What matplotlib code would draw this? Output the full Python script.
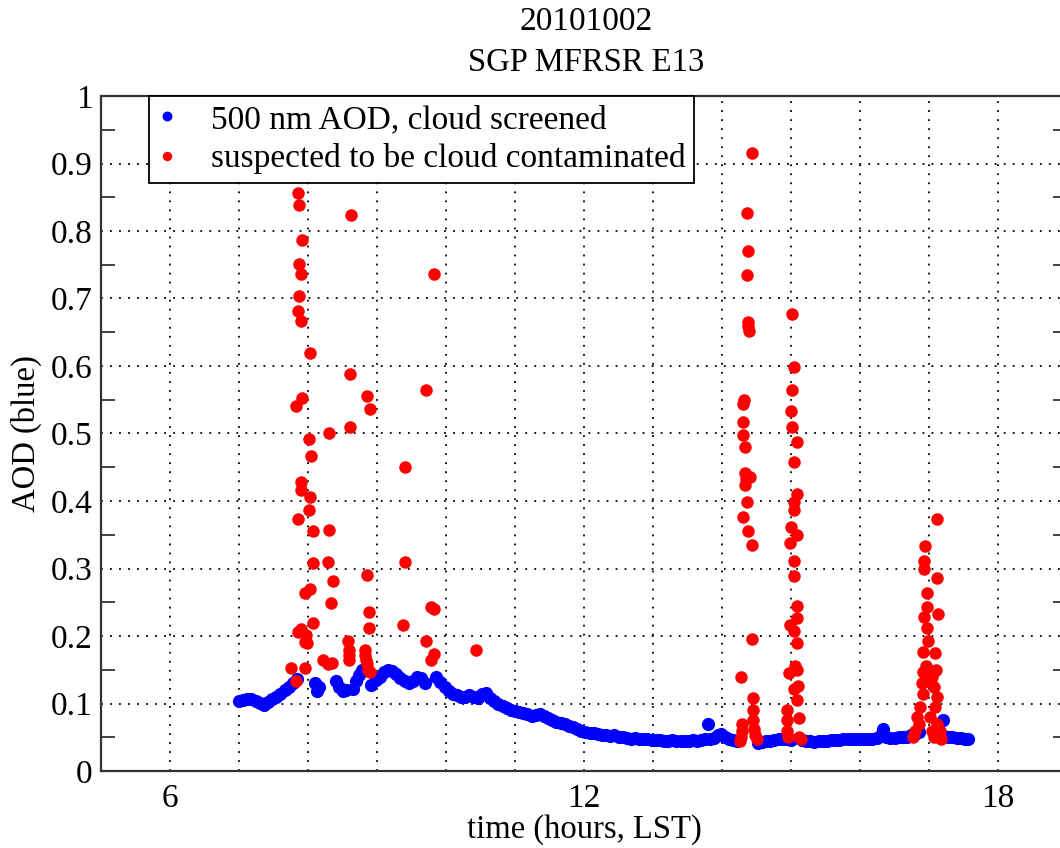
import matplotlib
matplotlib.use("Agg")
import matplotlib.pyplot as plt
from matplotlib.ticker import MultipleLocator, FixedLocator, FormatStrFormatter

# Cloud screened 500 nm AOD (blue)
blue_t = [7.00, 7.06, 7.12, 7.18, 7.24, 7.30, 7.36, 7.42, 7.48, 7.54, 7.60, 7.66, 7.72, 7.78, 7.84,
          8.10, 8.13, 8.16, 8.40, 8.45, 8.50, 8.55, 8.65, 8.70, 8.74, 8.78,
          8.92, 8.98, 9.04, 9.10, 9.16, 9.22, 9.28, 9.34, 9.40, 9.46, 9.52, 9.58, 9.64, 9.70,
          9.86, 9.92, 9.98, 10.04, 10.10, 10.16, 10.22, 10.28, 10.34, 10.40, 10.46, 10.52, 10.58,
          10.64, 10.70, 10.76, 10.82, 10.88, 10.94, 11.00, 11.06, 11.12, 11.18, 11.24, 11.30,
          11.36, 11.42, 11.48, 11.54, 11.60, 11.66, 11.72, 11.78, 11.84, 11.90, 11.96, 12.02,
          12.08, 12.14, 12.20, 12.26, 12.32, 12.38, 12.44, 12.50, 12.56, 12.62, 12.68, 12.74,
          12.80, 12.86, 12.92, 12.98, 13.04, 13.10, 13.16, 13.22, 13.28, 13.34, 13.40, 13.46,
          13.52, 13.58, 13.64, 13.70, 13.76, 13.79, 13.82, 13.88, 13.94, 13.98, 14.04, 14.10,
          14.16, 14.22, 14.52, 14.58, 14.64, 14.70, 14.76, 14.82, 14.88, 14.94, 15.00,
          15.16, 15.22, 15.28, 15.34, 15.40, 15.46, 15.52, 15.58, 15.64, 15.70, 15.76, 15.82,
          15.88, 15.94, 16.00, 16.06, 16.12, 16.18, 16.24, 16.30, 16.33, 16.38, 16.44, 16.50,
          16.56, 16.62, 16.68, 16.74, 16.80, 16.86, 17.20, 17.22, 17.28, 17.34, 17.40, 17.46,
          17.52, 17.57]
blue_aod = [0.103, 0.105, 0.107, 0.106, 0.104, 0.101, 0.098, 0.102, 0.106, 0.110, 0.114, 0.120, 0.125, 0.131, 0.136,
            0.130, 0.118, 0.125, 0.133, 0.125, 0.118, 0.120, 0.122, 0.133, 0.142, 0.150,
            0.128, 0.135, 0.140, 0.146, 0.150, 0.148, 0.143, 0.138, 0.134, 0.130, 0.133, 0.140, 0.138, 0.130,
            0.140, 0.132, 0.124, 0.118, 0.114, 0.112, 0.110, 0.110, 0.113, 0.110, 0.108, 0.114, 0.116,
            0.108, 0.104, 0.100, 0.097, 0.094, 0.091, 0.089, 0.088, 0.086, 0.084, 0.082, 0.083,
            0.085, 0.081, 0.078, 0.076, 0.073, 0.071, 0.069, 0.067, 0.065, 0.062, 0.060, 0.058,
            0.057, 0.056, 0.055, 0.054, 0.053, 0.052, 0.053, 0.051, 0.050, 0.049, 0.048, 0.049,
            0.048, 0.047, 0.047, 0.046, 0.046, 0.046, 0.045, 0.045, 0.046, 0.045, 0.045, 0.044,
            0.045, 0.046, 0.045, 0.046, 0.047, 0.070, 0.048, 0.049, 0.053, 0.055, 0.050, 0.047,
            0.046, 0.045, 0.042, 0.043, 0.044, 0.045, 0.046, 0.047, 0.048, 0.048, 0.046,
            0.046, 0.045, 0.044, 0.043, 0.044, 0.045, 0.045, 0.046, 0.046, 0.046, 0.047, 0.047,
            0.047, 0.047, 0.047, 0.047, 0.048, 0.048, 0.049, 0.053, 0.062, 0.050, 0.049, 0.049,
            0.050, 0.050, 0.051, 0.053, 0.055, 0.058, 0.075, 0.052, 0.050, 0.050, 0.049, 0.049,
            0.048, 0.048]

# Points suspected to be cloud contaminated (red)
red_t = [7.76, 7.82, 7.85, 7.86, 7.87, 7.92, 7.87, 7.90, 7.87, 7.85, 7.90, 8.03, 7.92, 7.82,
         8.02, 8.04, 7.90, 7.90, 8.03, 8.02, 7.85, 8.07, 8.07, 8.03, 7.96, 8.07, 7.90, 7.97,
         7.95, 7.99, 7.96,
         8.63, 8.61, 8.85, 8.90, 8.61, 8.31, 8.31, 8.29, 8.85, 8.36, 8.33, 8.89, 8.88, 8.58,
         8.60, 8.60, 8.60, 8.22, 8.35, 8.29, 8.83, 8.83, 8.84, 8.85, 8.87, 8.90,
         9.82, 9.71, 9.41, 9.41, 9.78, 9.82, 9.38, 9.71, 9.82, 9.78, 10.44,
         14.43, 14.36, 14.38, 14.36, 14.37, 14.39, 14.38, 14.30, 14.32, 14.30, 14.31, 14.33,
         14.33, 14.35, 14.40, 14.33, 14.36, 14.31, 14.38, 14.43, 14.43, 14.28, 14.29, 14.29,
         14.28, 14.26, 14.45, 14.45, 14.45, 14.46, 14.48, 14.51,
         15.01, 15.05, 15.01, 15.00, 15.01, 15.08, 15.04, 15.08, 15.05, 15.05, 15.00, 15.08,
         14.98, 15.05, 15.04, 15.08, 15.08, 14.98, 15.05, 15.08, 15.06, 14.97, 15.09, 15.10,
         15.05, 15.09, 14.94, 14.94, 14.94, 14.95, 15.11, 15.11, 15.14,
         17.11, 16.94, 16.93, 16.93, 17.11, 16.97, 16.97, 16.93, 17.13, 16.97, 16.99, 16.91,
         17.09, 16.92, 16.97, 17.07, 17.11, 16.92, 16.87, 16.83, 16.80, 16.77, 17.09, 17.02,
         17.04, 17.07, 17.16, 17.18, 16.90, 16.95, 17.00, 17.05, 17.10, 16.85, 17.12]
red_aod = [0.153, 0.134, 0.206, 0.857, 0.839, 0.787, 0.751, 0.736, 0.703, 0.682, 0.667, 0.620, 0.552, 0.541,
           0.492, 0.466, 0.428, 0.417, 0.406, 0.387, 0.374, 0.356, 0.308, 0.270, 0.263, 0.219, 0.211, 0.201,
           0.191, 0.189, 0.153,
           0.824, 0.588, 0.555, 0.537, 0.509, 0.501, 0.357, 0.310, 0.290, 0.282, 0.249, 0.235, 0.212, 0.192,
           0.180, 0.172, 0.165, 0.164, 0.160, 0.159, 0.180, 0.172, 0.165, 0.158, 0.150, 0.147,
           0.736, 0.565, 0.450, 0.309, 0.243, 0.240, 0.217, 0.193, 0.174, 0.164, 0.180,
           0.916, 0.827, 0.771, 0.735, 0.660, 0.652, 0.665, 0.543, 0.549, 0.517, 0.498, 0.480,
           0.441, 0.433, 0.435, 0.423, 0.399, 0.377, 0.356, 0.335, 0.196, 0.139, 0.070, 0.060,
           0.050, 0.045, 0.108, 0.090, 0.075, 0.062, 0.053, 0.047,
           0.677, 0.598, 0.565, 0.533, 0.509, 0.488, 0.458, 0.411, 0.399, 0.386, 0.362, 0.350,
           0.338, 0.311, 0.289, 0.244, 0.226, 0.217, 0.208, 0.190, 0.156, 0.145, 0.150, 0.126,
           0.121, 0.105, 0.090, 0.075, 0.060, 0.050, 0.078, 0.050, 0.047,
           0.373, 0.333, 0.311, 0.300, 0.286, 0.263, 0.243, 0.228, 0.233, 0.212, 0.193, 0.176,
           0.175, 0.146, 0.134, 0.124, 0.109, 0.114, 0.095, 0.080, 0.060, 0.050, 0.095, 0.080,
           0.060, 0.050, 0.060, 0.048, 0.130, 0.155, 0.150, 0.140, 0.150, 0.070, 0.070]

x_ticks = [6, 12, 18]

plt.rcParams['font.family'] = ['Liberation Serif', 'DejaVu Serif']

fig = plt.figure(figsize=(10.6, 8.48), dpi=100)
ax = fig.add_axes([101 / 1060, 1 - 771 / 848, 966 / 1060, 675 / 848])

ax.plot(blue_t, blue_aod, 'o', color='blue', ms=9.5, mew=0, zorder=3,
        label='500 nm AOD, cloud screened')
ax.plot(red_t, red_aod, 'o', color='red', ms=9, mew=0, zorder=4,
        label='suspected to be cloud contaminated')

ax.set_xlim(5, 19)
ax.set_ylim(0, 1)
ax.xaxis.set_major_locator(FixedLocator(x_ticks))
ax.xaxis.set_minor_locator(MultipleLocator(1))
ax.yaxis.set_major_locator(MultipleLocator(0.1))
ax.yaxis.set_minor_locator(MultipleLocator(0.05))
ax.yaxis.set_major_formatter(FormatStrFormatter('%g'))

ax.grid(True, which='both', axis='x', color='black', linestyle=(0, (1, 4)), linewidth=1.3)
ax.grid(True, which='major', axis='y', color='black', linestyle=(0, (1, 4)), linewidth=1.3)

ax.tick_params(axis='x', which='both', length=0, labelsize=24, pad=9)
ax.tick_params(axis='y', which='major', length=0, labelsize=24, pad=6)
ax.tick_params(axis='y', which='minor', length=10, width=1.3, direction='in',
               left=True, right=True, color='#333333')

for s in ax.spines.values():
    s.set_linewidth(1.6)
    s.set_color('#333333')

ax.set_xlabel('time (hours, LST)', fontsize=23.5, labelpad=0)
ax.set_ylabel('AOD (blue)', fontsize=23.5, labelpad=6)

fig.text(0.553, 1 - 22 / 848, '20101002', ha='center', va='center', fontsize=24)
fig.text(0.553, 1 - 63 / 848, 'SGP MFRSR E13', ha='center', va='center', fontsize=23.5)

leg = ax.legend(loc='upper left', bbox_to_anchor=(48 / 966, 1.0), borderaxespad=0,
                fontsize=24, frameon=True, fancybox=False, framealpha=1,
                edgecolor='black', handlelength=0.6, handletextpad=1.0,
                labelspacing=0.25, borderpad=0.25, markerscale=0.75)
leg.get_frame().set_linewidth(1.3)

fig.savefig('out.png', dpi=100)
